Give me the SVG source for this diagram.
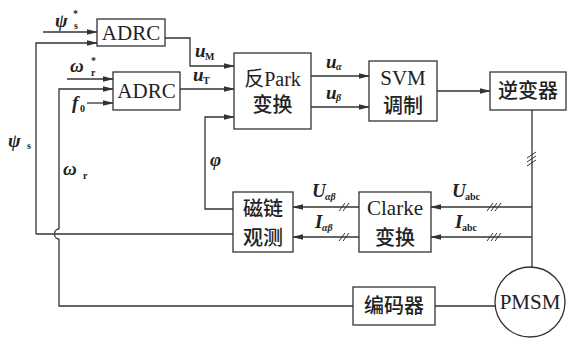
<svg xmlns="http://www.w3.org/2000/svg" width="570" height="343" viewBox="0 0 570 343">
<style>
.box{fill:#fff;stroke:#333;stroke-width:1.3}
.ln{fill:none;stroke:#333;stroke-width:1.3}
.arr{fill:none;stroke:#333;stroke-width:1.3;marker-end:url(#ah)}
.lat{font-family:"Liberation Serif",serif;font-size:21px;fill:#222;text-anchor:middle}
.cjk{font-family:"Noto Sans CJK SC",sans-serif;font-size:20px;font-weight:500;fill:#222;text-anchor:middle}
.mix{font-family:"Liberation Serif","Noto Sans CJK SC",serif;font-size:20px;fill:#222;text-anchor:middle}
.v{font-family:"Liberation Serif",serif;font-size:19px;font-style:italic;font-weight:bold;fill:#222}
.s{font-family:"Liberation Serif",serif;font-size:10px;font-weight:bold;fill:#222}
.si{font-family:"Liberation Serif",serif;font-size:10px;font-weight:bold;font-style:italic;fill:#222}
.tk{fill:none;stroke:#333;stroke-width:1}
</style>
<defs>
<marker id="ah" markerWidth="11" markerHeight="8" refX="10" refY="4" orient="auto" markerUnits="userSpaceOnUse">
<path d="M0,1.2 L11,4 L0,6.8 Z" fill="#333"/>
</marker>
</defs>
<g id="connectors">
<path class="arr" d="M43,32 H97"/>
<path class="arr" d="M36,234 V43 H97"/>
<path class="arr" d="M67,79 H113"/>
<path class="arr" d="M87,103 H113"/>
<path class="ln" d="M59,229 A4.5,5 0 0 0 59,239"/>
<path class="ln" d="M59,239 V306 H353"/>
<path class="arr" d="M59,229 V89 H113"/>
<path class="ln" d="M36,234 H233"/>
<path class="arr" d="M165,38 H190 V66 H234"/>
<path class="arr" d="M180,89 H234"/>
<path class="arr" d="M233,209 H205 V117 H234"/>
<path class="arr" d="M311,76 H369"/>
<path class="arr" d="M311,107 H369"/>
<path class="arr" d="M437,91 H490"/>
<path class="ln" d="M532,110 V267"/>
<path class="arr" d="M532,207 H431"/>
<path class="arr" d="M532,237 H431"/>
<path class="arr" d="M359,207 H293"/>
<path class="arr" d="M359,237 H293"/>
<path class="ln" d="M435,306 H495"/>
<path class="tk" d="M527,158 L536,152 M527,162 L536,156 M527,166 L536,160"/>
<path class="tk" d="M487,211 L493,203 M491,211 L497,203 M495,211 L501,203"/>
<path class="tk" d="M487,241 L493,233 M491,241 L497,233 M495,241 L501,233"/>
<path class="tk" d="M339,211 L345,203 M343,211 L349,203"/>
<path class="tk" d="M339,241 L345,233 M343,241 L349,233"/>
</g>
<g id="adrc1"><rect class="box" x="97" y="19" width="68" height="27"/><text class="lat" x="131" y="39.5" font-size="20">ADRC</text></g>
<g id="adrc2"><rect class="box" x="113" y="72" width="67" height="38"/><text class="lat" x="146.5" y="98" font-size="20">ADRC</text></g>
<g id="invpark"><rect class="box" x="234" y="53" width="77" height="76"/><text class="mix" x="272.5" y="86">反<tspan font-family="Liberation Serif">Park</tspan></text><text class="cjk" x="272.5" y="112">变换</text></g>
<g id="svm"><rect class="box" x="369" y="61" width="68" height="60"/><text class="lat" x="403" y="85" font-size="20">SVM</text><text class="cjk" x="403" y="113" font-size="19">调制</text></g>
<g id="inverter"><rect class="box" x="490" y="72" width="76" height="38"/><text class="cjk" x="528" y="98">逆变器</text></g>
<g id="observer"><rect class="box" x="233" y="192" width="60" height="60"/><text class="cjk" x="263" y="216">磁链</text><text class="cjk" x="263" y="245">观测</text></g>
<g id="clarke"><rect class="box" x="359" y="192" width="72" height="60"/><text class="lat" x="395" y="215">Clarke</text><text class="cjk" x="395" y="245">变换</text></g>
<g id="encoder"><rect class="box" x="353" y="287" width="82" height="38"/><text class="cjk" x="394" y="313">编码器</text></g>
<g id="pmsm"><circle class="box" cx="530" cy="302" r="35"/><text class="lat" x="530" y="309">PMSM</text></g>
<g id="labels">
<text class="v" x="55" y="27">ψ</text><text class="s" x="74" y="29">s</text><text class="s" x="73" y="17">*</text>
<text class="v" x="70" y="72">ω</text><text class="s" x="91" y="76">r</text><text class="s" x="91" y="64">*</text>
<text class="v" x="72" y="109">f</text><text class="s" x="80" y="112">0</text>
<text class="v" x="8" y="147">ψ</text><text class="s" x="27" y="149">s</text>
<text class="v" x="63" y="175">ω</text><text class="s" x="83" y="179">r</text>
<text class="v" x="210" y="166">φ</text>
<text class="v" x="195" y="57">u</text><text class="s" x="205" y="60" font-size="9">M</text>
<text class="v" x="193" y="81">u</text><text class="s" x="203" y="84" font-size="9">T</text>
<text class="v" x="326" y="68">u</text><text class="si" x="336" y="70">α</text>
<text class="v" x="326" y="99">u</text><text class="si" x="336" y="101">β</text>
<text class="v" x="312" y="197">U</text><text class="si" x="325" y="200">αβ</text>
<text class="v" x="315" y="228">I</text><text class="si" x="322" y="231">αβ</text>
<text class="v" x="452" y="197">U</text><text class="s" x="465" y="200">abc</text>
<text class="v" x="455" y="228">I</text><text class="s" x="462" y="231">abc</text>
</g>
</svg>
